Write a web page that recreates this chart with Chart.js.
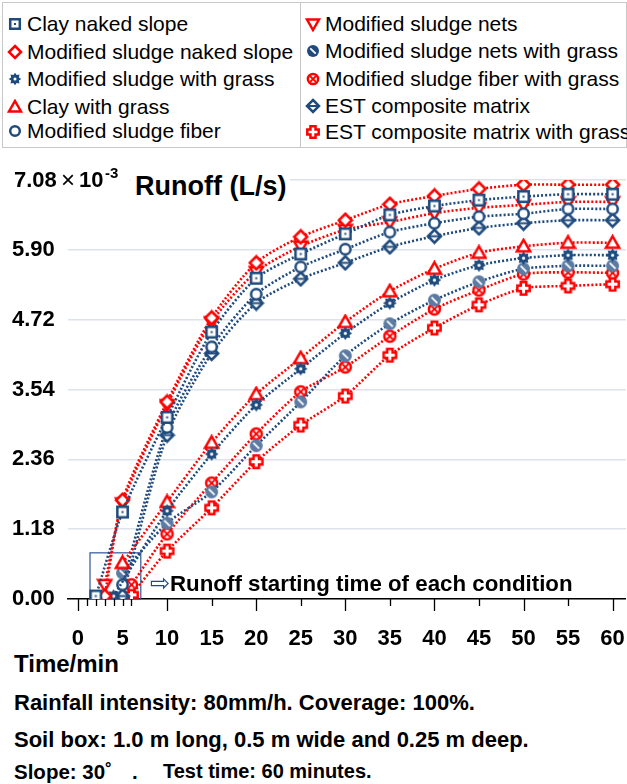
<!DOCTYPE html>
<html>
<head>
<meta charset="utf-8">
<script src="https://cdn.jsdelivr.net/npm/chart.js@4.4.1/dist/chart.umd.min.js"></script>
<style>
  body { margin: 0; background: #fff; font-family: "Liberation Sans", Arial, sans-serif; }
  #page { position: relative; width: 627px; height: 784px; overflow: hidden; }
  #legend { position: absolute; left: 2px; top: 2px; width: 623px; height: 144px; border: 1px solid #c8c8c8; }
  #legend .sep { position: absolute; left: 297px; top: 0; width: 1px; height: 144px; background: #c8c8c8; }
  .item { position: absolute; height: 24px; line-height: 24px; font-size: 21px; color: #000; white-space: nowrap; }
  .item canvas { position: absolute; top: 4px; }
  #chart { position: absolute; left: 0; top: 150px; }
  .txt { position: absolute; font-weight: bold; color: #000; white-space: pre; }
</style>
</head>
<body>
<div id="page">
  <div id="legend"><div class="sep"></div></div>
  <canvas id="chart" width="652" height="500"></canvas>
  <div class="txt" style="left:131px; top:171px; font-size:27px; background:#fff; padding:0 4px;">Runoff (L/s)</div>
  <div class="txt" style="left:150px; top:569px; font-size:22.3px;"><span style="color:#1F4A7D; font-size:24px; font-weight:normal;">&#8680;</span>Runoff starting time of each condition</div>
  <div class="txt" style="left:14px; top:650px; font-size:24px;">Time/min</div>
  <div class="txt" style="left:14px; top:690px; font-size:22px;">Rainfall intensity: 80mm/h. Coverage: 100%.</div>
  <div class="txt" style="left:14px; top:727px; font-size:22px;">Soil box: 1.0 m long, 0.5 m wide and 0.25 m deep.</div>
  <div class="txt" style="left:14px; top:760px; font-size:20.5px;">Slope: 30&#730;</div>
  <div class="txt" style="left:132px; top:760px; font-size:20.5px;">.</div>
  <div class="txt" style="left:163px; top:760px; font-size:20px;">Test time: 60 minutes.</div>
</div>
<script>
// runoff values in 10^-3 L/s
const minutes = [10, 15, 20, 25, 30, 35, 40, 45, 50, 55, 60];

const clayNakedStartT = [2, 5];
const clayNakedStartV = [0.05, 1.47];
const clayNaked = [3.07, 4.51, 5.42, 5.83, 6.17, 6.49, 6.64, 6.74, 6.80, 6.84, 6.84];

const sludgeNakedStartT = [3, 5];
const sludgeNakedStartV = [0.05, 1.67];
const sludgeNaked = [3.33, 4.75, 5.68, 6.12, 6.40, 6.67, 6.81, 6.93, 7.00, 7.00, 7.00];

const sludgeGrassStartT = [4];
const sludgeGrassStartV = [0.05];
const sludgeGrass = [1.49, 2.45, 3.28, 3.89, 4.49, 5.00, 5.39, 5.64, 5.76, 5.81, 5.81];

const clayGrassStartT = [5];
const clayGrassStartV = [0.61];
const clayGrass = [1.64, 2.64, 3.46, 4.07, 4.68, 5.20, 5.58, 5.85, 5.96, 6.02, 6.02];

const sludgeFiberStartT = [5];
const sludgeFiberStartV = [0.24];
const sludgeFiber = [2.90, 4.26, 5.15, 5.61, 5.91, 6.20, 6.35, 6.46, 6.51, 6.59, 6.59];

const sludgeNetsStartT = [3, 5];
const sludgeNetsStartV = [0.24, 1.62];
const sludgeNets = [3.28, 4.68, 5.53, 5.96, 6.24, 6.37, 6.52, 6.61, 6.66, 6.71, 6.71];

const netsGrassStartT = [5];
const netsGrassStartV = [0.44];
const netsGrass = [1.28, 1.81, 2.59, 3.33, 4.11, 4.65, 5.05, 5.36, 5.58, 5.63, 5.63];

const fiberGrassStartT = [6];
const fiberGrassStartV = [0.24];
const fiberGrass = [1.10, 1.96, 2.79, 3.50, 3.92, 4.44, 4.90, 5.22, 5.49, 5.52, 5.51];

const estStartT = [5];
const estStartV = [0.05];
const est = [2.77, 4.15, 5.00, 5.41, 5.68, 5.95, 6.13, 6.27, 6.35, 6.40, 6.40];

const estGrassStartT = [6];
const estGrassStartV = [0.07];
const estGrass = [0.81, 1.54, 2.32, 2.94, 3.43, 4.12, 4.58, 4.97, 5.25, 5.29, 5.32];

const xTickValues = [0, 1, 2, 3, 4, 5, 6, 10, 15, 20, 25, 30, 35, 40, 45, 50, 55, 60];
const yTickValues = [0, 1.18, 2.36, 3.54, 4.72, 5.90, 7.08];
const boxX = [1.35, 7.05];
const boxY = [0, 0.78];

const RED = '#FF0000';
const BLUE = '#1F4A7D';
const SLATE = '#5B7BA3';

function drawShape(g, kind, color, c, r) {
    g.lineWidth = 2.5;
    g.strokeStyle = color;
    g.fillStyle = '#fff';
    g.lineJoin = 'miter';
    const poly = pts => {
        g.beginPath();
        pts.forEach((p, i) => i ? g.lineTo(p[0], p[1]) : g.moveTo(p[0], p[1]));
        g.closePath();
    };
    if (kind === 'square') {
        g.beginPath();
        g.rect(c - r * 0.8, c - r * 0.8, r * 1.6, r * 1.6);
        g.fill(); g.stroke();
        g.fillStyle = color;
        g.fillRect(c - 1, c - 1, 2, 2);
    } else if (kind === 'diamond' || kind === 'diamondBar') {
        poly([[c, c - r], [c + r, c], [c, c + r], [c - r, c]]);
        g.fill(); g.stroke();
        if (kind === 'diamondBar') {
            g.lineWidth = 2;
            g.beginPath(); g.moveTo(c - r, c); g.lineTo(c + r, c); g.stroke();
        }
    } else if (kind === 'triangle') {
        poly([[c, c - r], [c + r, c + r * 0.75], [c - r, c + r * 0.75]]);
        g.fill(); g.stroke();
    } else if (kind === 'triangleDown') {
        poly([[c, c + r], [c + r, c - r * 0.75], [c - r, c - r * 0.75]]);
        g.fill(); g.stroke();
    } else if (kind === 'circle') {
        g.beginPath(); g.arc(c, c, r * 0.8, 0, Math.PI * 2);
        g.fill(); g.stroke();
    } else if (kind === 'circleX') {
        g.beginPath(); g.arc(c, c, r * 0.85, 0, Math.PI * 2);
        g.fill(); g.stroke();
        const d = r * 0.48;
        g.lineWidth = 2;
        g.beginPath();
        g.moveTo(c - d, c - d); g.lineTo(c + d, c + d);
        g.moveTo(c + d, c - d); g.lineTo(c - d, c + d);
        g.stroke();
    } else if (kind === 'circleSlash') {
        g.fillStyle = color;
        g.beginPath(); g.arc(c, c, r, 0, Math.PI * 2); g.fill();
        const d = r * 0.45;
        g.strokeStyle = '#fff'; g.lineWidth = 1.8;
        g.beginPath(); g.moveTo(c - d, c - d); g.lineTo(c + d, c + d); g.stroke();
    } else if (kind === 'gear') {
        const pts = [];
        for (let i = 0; i < 16; i++) {
            const a = i * Math.PI / 8 - Math.PI / 2;
            const rr = i % 2 ? r * 0.7 : r * 1.05;
            pts.push([c + rr * Math.cos(a), c + rr * Math.sin(a)]);
        }
        poly(pts);
        g.fillStyle = color; g.fill();
        g.fillStyle = '#fff';
        g.beginPath(); g.arc(c, c, r * 0.25, 0, Math.PI * 2); g.fill();
    } else if (kind === 'cross') {
        const a = r * 0.42, o = r * 0.95;
        poly([[c - a, c - o], [c + a, c - o], [c + a, c - a], [c + o, c - a], [c + o, c + a], [c + a, c + a],
              [c + a, c + o], [c - a, c + o], [c - a, c + a], [c - o, c + a], [c - o, c - a], [c - a, c - a]]);
        g.fill(); g.stroke();
    }
}

function markerCanvas(kind, color, size) {
    const cv = document.createElement('canvas');
    cv.width = size; cv.height = size;
    drawShape(cv.getContext('2d'), kind, color, size / 2, size / 2 - 2);
    return cv;
}

const series = [
    { label: 'Clay naked slope', t: clayNakedStartT, v: clayNakedStartV, late: clayNaked, kind: 'square', color: BLUE, line: BLUE, col: 0, row: 0 },
    { label: 'Modified sludge naked slope', t: sludgeNakedStartT, v: sludgeNakedStartV, late: sludgeNaked, kind: 'diamond', color: RED, line: RED, col: 0, row: 1 },
    { label: 'Modified sludge with grass', t: sludgeGrassStartT, v: sludgeGrassStartV, late: sludgeGrass, kind: 'gear', color: BLUE, line: BLUE, col: 0, row: 2 },
    { label: 'Clay with grass', t: clayGrassStartT, v: clayGrassStartV, late: clayGrass, kind: 'triangle', color: RED, line: RED, col: 0, row: 3 },
    { label: 'Modified sludge fiber', t: sludgeFiberStartT, v: sludgeFiberStartV, late: sludgeFiber, kind: 'circle', color: BLUE, line: BLUE, col: 0, row: 4 },
    { label: 'Modified sludge nets', t: sludgeNetsStartT, v: sludgeNetsStartV, late: sludgeNets, kind: 'triangleDown', color: RED, line: RED, col: 1, row: 0 },
    { label: 'Modified sludge nets with grass', t: netsGrassStartT, v: netsGrassStartV, late: netsGrass, kind: 'circleSlash', color: SLATE, legendColor: BLUE, line: BLUE, col: 1, row: 1 },
    { label: 'Modified sludge fiber with grass', t: fiberGrassStartT, v: fiberGrassStartV, late: fiberGrass, kind: 'circleX', color: RED, line: RED, col: 1, row: 2 },
    { label: 'EST composite matrix', t: estStartT, v: estStartV, late: est, kind: 'diamondBar', color: BLUE, line: BLUE, col: 1, row: 3 },
    { label: 'EST composite matrix with grass', t: estGrassStartT, v: estGrassStartV, late: estGrass, kind: 'cross', color: RED, line: RED, col: 1, row: 4 }
];

// html legend
const legendRows = [[12, 40, 67, 95, 119], [12, 39, 67, 94, 120]];
const legendBox = document.getElementById('legend');
series.forEach(s => {
    const it = document.createElement('div');
    it.className = 'item';
    it.style.left = (s.col ? 322 : 24) + 'px';
    it.style.top = (legendRows[s.col][s.row] - 3) + 'px';
    const mk = markerCanvas(s.kind, s.legendColor || s.color, 16);
    mk.style.left = '-20px';
    it.appendChild(mk);
    it.appendChild(document.createTextNode(s.label));
    legendBox.appendChild(it);
});

const datasets = series.map(s => {
    const xs = s.t.concat(minutes);
    const ys = s.v.concat(s.late);
    return {
        label: s.label,
        data: xs.map((x, i) => ({ x: x, y: ys[i] })),
        borderColor: s.line,
        borderWidth: 2.6,
        borderDash: [2, 2],
        tension: 0.25,
        pointStyle: markerCanvas(s.kind, s.color, 17),
        fill: false
    };
});

const axisTicks = {
    id: 'axisTicks',
    afterDraw(chart) {
        const sx = chart.scales.x, sy = chart.scales.y;
        const g = chart.ctx;
        g.save();
        g.strokeStyle = '#000';
        g.lineWidth = 1.3;
        xTickValues.forEach(v => {
            const px = Math.round(sx.getPixelForValue(v)) + 0.5;
            const len = v % 10 === 0 ? 12 : 7;
            g.beginPath();
            g.moveTo(px, sx.top);
            g.lineTo(px, sx.top + len);
            g.stroke();
        });
        // top y label with exponent
        const ty = sy.getPixelForValue(yTickValues[yTickValues.length - 1]);
        g.fillStyle = '#fff';
        g.fillRect(sy.right - 2, ty - 12, 64, 24);
        g.fillStyle = '#000';
        g.textBaseline = 'middle';
        g.font = 'bold 22px "Liberation Sans"';
        g.fillText('7.08', 14, ty + 1);
        g.font = '24px "Liberation Sans"';
        g.fillText('\u00d7', 61, ty + 1);
        g.font = 'bold 22px "Liberation Sans"';
        g.fillText('10', 79, ty + 1);
        g.font = 'bold 15px "Liberation Sans"';
        g.fillText('-3', 105, ty - 6);
        g.restore();
    }
};

const startBox = {
    id: 'startBox',
    beforeDatasetsDraw(chart) {
        const sx = chart.scales.x, sy = chart.scales.y;
        const g = chart.ctx;
        const x0 = sx.getPixelForValue(boxX[0]), x1 = sx.getPixelForValue(boxX[1]);
        const y0 = sy.getPixelForValue(boxY[1]), y1 = sy.getPixelForValue(boxY[0]);
        g.save();
        g.strokeStyle = '#2F5597';
        g.lineWidth = 1.2;
        g.strokeRect(x0, y0, x1 - x0, y1 - y0);
        g.restore();
    }
};

new Chart(document.getElementById('chart'), {
    type: 'line',
    data: { datasets },
    plugins: [startBox, axisTicks],
    options: {
        responsive: false,
        animation: false,
        layout: { padding: { left: 12, right: 0, top: 30, bottom: 0 } },
        plugins: { legend: { display: false }, tooltip: { enabled: false } },
        scales: {
            x: {
                type: 'linear',
                min: -1.12,
                max: 61.5,
                afterBuildTicks: s => { s.ticks = xTickValues.map(v => ({ value: v })); },
                afterFit: s => { s.height = 51; },
                ticks: {
                    autoSkip: false,
                    maxRotation: 0,
                    padding: 27,
                    color: '#000',
                    font: { family: 'Liberation Sans', size: 22, weight: 'bold' },
                    callback: v => (v % 5 === 0 ? String(v) : '')
                },
                grid: { display: true, drawOnChartArea: false, drawTicks: false },
                border: { display: true, color: '#000', width: 1.5 }
            },
            y: {
                min: 0,
                max: 7.08,
                afterBuildTicks: s => { s.ticks = yTickValues.map(v => ({ value: v })); },
                afterFit: s => { s.width = 56; },
                ticks: {
                    crossAlign: 'far',
                    padding: 4,
                    color: '#000',
                    font: { family: 'Liberation Sans', size: 22, weight: 'bold' },
                    callback: v => (v === 7.08 ? '' : v.toFixed(2))
                },
                grid: { color: '#DCE3EC', lineWidth: 1.5, drawTicks: false },
                border: { display: false }
            }
        }
    }
});
</script>
</body>
</html>
